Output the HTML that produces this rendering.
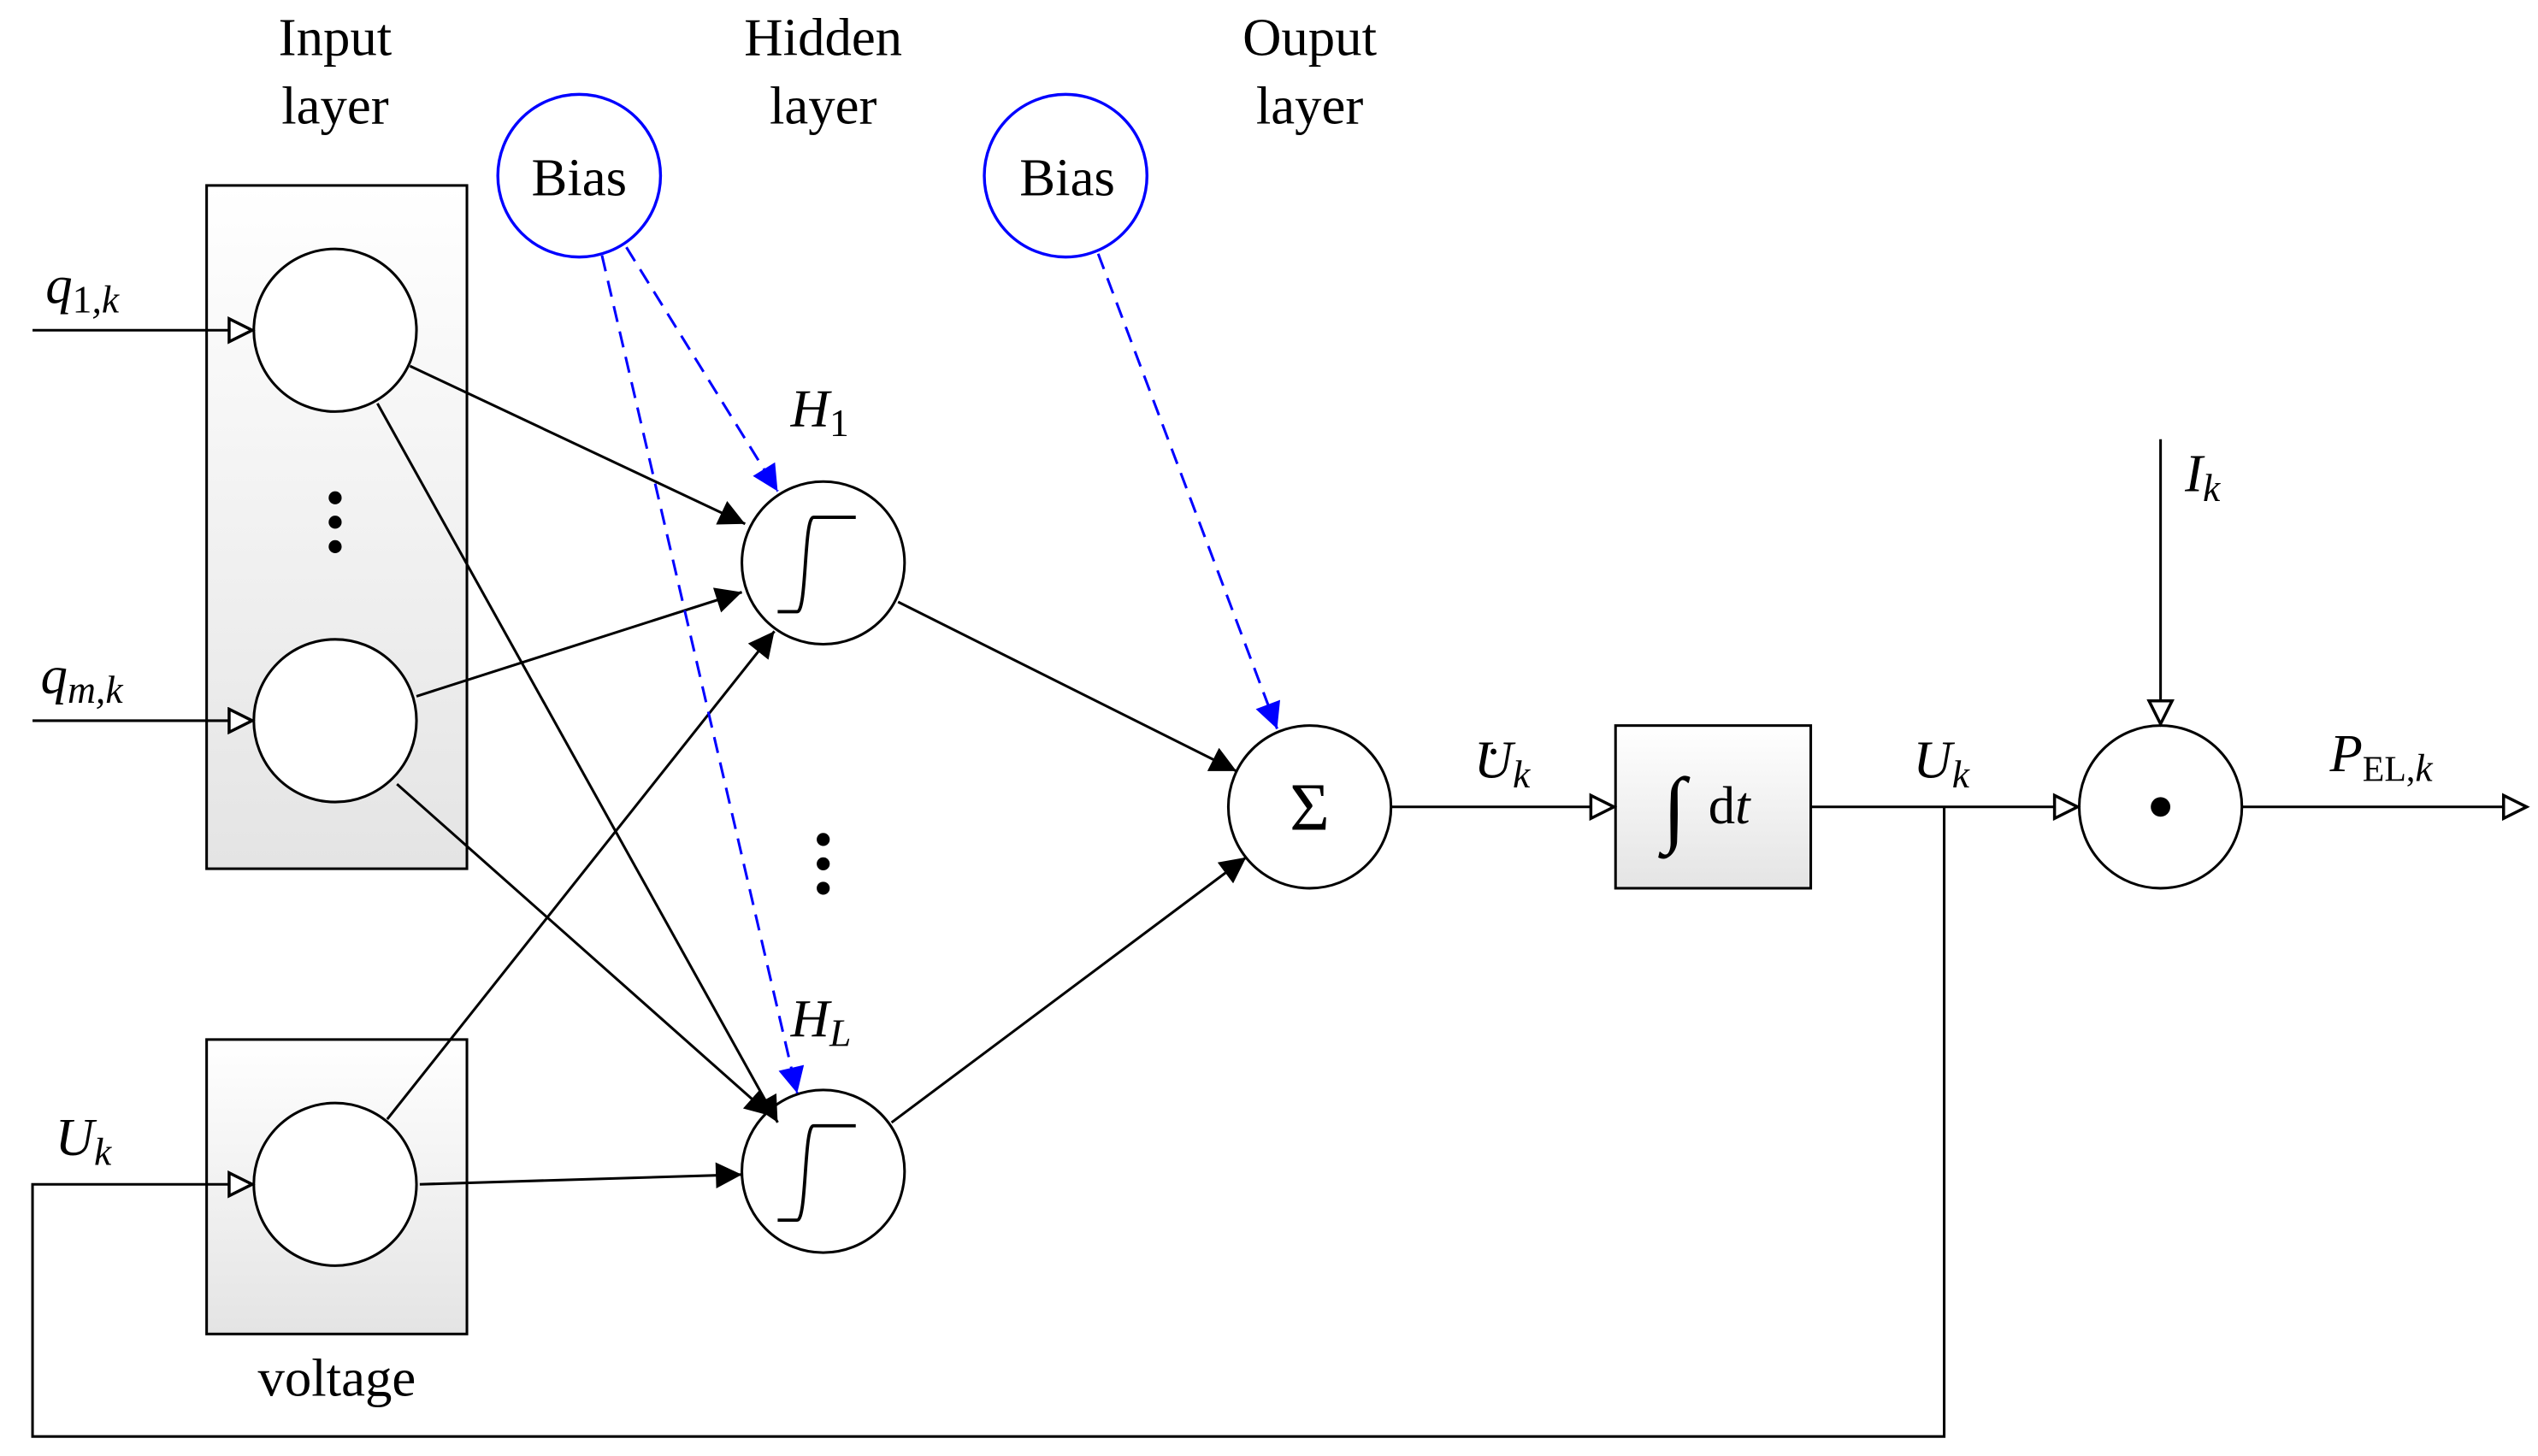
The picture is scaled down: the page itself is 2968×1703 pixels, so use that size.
<!DOCTYPE html>
<html><head><meta charset="utf-8"><style>
html,body{margin:0;padding:0;background:#fff;}
svg{display:block;}
text{font-family:"Liberation Serif",serif;fill:#000;}
.it{font-style:italic;}
</style></head><body>
<svg width="2968" height="1703" viewBox="0 0 1560 895" preserveAspectRatio="none" xmlns="http://www.w3.org/2000/svg">
<defs>
<linearGradient id="g" x1="0" y1="0" x2="0" y2="1">
<stop offset="0" stop-color="#ffffff"/><stop offset="1" stop-color="#e4e4e4"/></linearGradient>
<marker id="a" viewBox="0 0 10 10" refX="10" refY="5" markerWidth="20" markerHeight="16" markerUnits="userSpaceOnUse" orient="auto">
<path d="M0,0 L10,5 L0,10 z" fill="#000"/></marker>
<marker id="b" viewBox="0 0 10 10" refX="10" refY="5" markerWidth="20" markerHeight="16" markerUnits="userSpaceOnUse" orient="auto">
<path d="M0,0 L10,5 L0,10 z" fill="#00f"/></marker>
<marker id="o" viewBox="0 0 12 12" refX="11" refY="6" markerWidth="20" markerHeight="17" markerUnits="userSpaceOnUse" orient="auto">
<path d="M1,1 L11,6 L1,11 z" fill="#fff" stroke="#000" stroke-width="1.3"/></marker>
</defs>
<g stroke="#000" stroke-width="1.6" fill="none">
<rect x="127" y="114" width="160" height="420" fill="url(#g)"/>
<rect x="127" y="639" width="160" height="181" fill="url(#g)"/>
<rect x="993" y="446" width="120" height="100" fill="url(#g)"/>
<circle cx="206" cy="203" r="50" fill="#fff"/>
<circle cx="206" cy="443" r="50" fill="#fff"/>
<circle cx="206" cy="728" r="50" fill="#fff"/>
<circle cx="506" cy="346" r="50" fill="#fff"/>
<circle cx="506" cy="720" r="50" fill="#fff"/>
<circle cx="805" cy="496" r="50" fill="#fff"/>
<circle cx="1328" cy="496" r="50" fill="#fff"/>
<path d="M478,376 H490 C496,376 494,318 500,318 H526" stroke-width="2"/>
<path d="M478,750 H490 C496,750 494,692 500,692 H526" stroke-width="2"/>
<line x1="20" y1="203" x2="155" y2="203" marker-end="url(#o)"/>
<line x1="20" y1="443" x2="155" y2="443" marker-end="url(#o)"/>
<path d="M1195,496 V883 H20 V728 H155" marker-end="url(#o)"/>
<line x1="855" y1="496" x2="992" y2="496" marker-end="url(#o)"/>
<line x1="1113" y1="496" x2="1277" y2="496" marker-end="url(#o)"/>
<line x1="1378" y1="496" x2="1553" y2="496" marker-end="url(#o)"/>
<line x1="1328" y1="270" x2="1328" y2="445" marker-end="url(#o)"/>
<line x1="252" y1="225" x2="458" y2="322" marker-end="url(#a)"/>
<line x1="232" y1="248" x2="478" y2="690" marker-end="url(#a)"/>
<line x1="256" y1="428" x2="456" y2="364" marker-end="url(#a)"/>
<line x1="244" y1="482" x2="474" y2="686" marker-end="url(#a)"/>
<line x1="238" y1="688" x2="476" y2="388" marker-end="url(#a)"/>
<line x1="258" y1="728" x2="456" y2="722" marker-end="url(#a)"/>
<line x1="552" y1="370" x2="760" y2="474" marker-end="url(#a)"/>
<line x1="548" y1="690" x2="766" y2="527" marker-end="url(#a)"/>
</g>
<g stroke="#00f" stroke-width="1.8" fill="none">
<circle cx="356" cy="108" r="50" fill="#fff"/>
<circle cx="655" cy="108" r="50" fill="#fff"/>
<g stroke-dasharray="10,6" stroke-width="1.6">
<line x1="385" y1="152" x2="478" y2="302" marker-end="url(#b)"/>
<line x1="370" y1="157" x2="490" y2="672" marker-end="url(#b)"/>
<line x1="675" y1="156" x2="785" y2="448" marker-end="url(#b)"/>
</g>
</g>
<g fill="#000">
<circle cx="206" cy="306" r="4"/><circle cx="206" cy="321" r="4"/><circle cx="206" cy="336" r="4"/>
<circle cx="506" cy="516" r="4"/><circle cx="506" cy="531" r="4"/><circle cx="506" cy="546" r="4"/>
<circle cx="1328" cy="496" r="6"/>
<circle cx="918" cy="462" r="1.8"/>
</g>
<g font-size="33" text-anchor="middle">
<text x="206" y="34">Input</text><text x="206" y="76">layer</text>
<text x="506" y="34">Hidden</text><text x="506" y="76">layer</text>
<text x="805" y="34">Ouput</text><text x="805" y="76">layer</text>
<text x="356" y="120">Bias</text><text x="656" y="120">Bias</text>
<text x="207" y="858">voltage</text>
<text x="805" y="510" font-size="42">Σ</text>
</g>
<g font-size="33">
<text x="28" y="186" class="it">q<tspan font-style="normal" font-size="24" dy="6">1</tspan><tspan font-size="24">,k</tspan></text>
<text x="25" y="426" class="it">q<tspan font-size="24" dy="6">m,k</tspan></text>
<text x="34" y="710" class="it">U<tspan font-size="24" dy="6">k</tspan></text>
<text x="486" y="262" class="it">H<tspan font-style="normal" font-size="24" dy="6">1</tspan></text>
<text x="486" y="637" class="it">H<tspan font-size="24" dy="6">L</tspan></text>
<text x="906" y="478" class="it">U<tspan font-size="24" dy="6">k</tspan></text>
<text x="1176" y="478" class="it">U<tspan font-size="24" dy="6">k</tspan></text>
<text x="1343" y="302" class="it">I<tspan font-size="24" dy="6">k</tspan></text>
<text x="1432" y="474" class="it">P<tspan font-style="normal" font-size="22" dy="6">EL,</tspan><tspan font-size="24">k</tspan></text>
<text x="1022" y="514" font-size="52">∫</text>
<text x="1050" y="506">d<tspan class="it">t</tspan></text>
</g>
</svg>
</body></html>
